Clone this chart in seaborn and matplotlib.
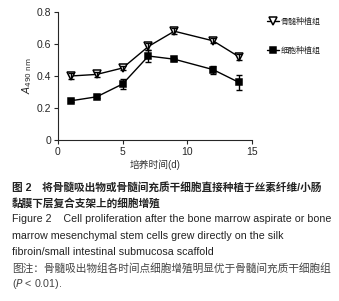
import matplotlib
matplotlib.use('Agg')
import numpy as np
import pandas as pd
from matplotlib import pyplot as plt
import seaborn as sns

# Data
days = [1, 3, 5, 7, 9, 12, 14]
marrow_mean = [0.40, 0.41, 0.45, 0.585, 0.68, 0.62, 0.52]
marrow_err = [0.02, 0.015, 0.015, 0.02, 0.02, 0.015, 0.02]
cell_mean = [0.245, 0.27, 0.35, 0.525, 0.505, 0.44, 0.36]
cell_err = [0.01, 0.01, 0.03, 0.035, 0.01, 0.025, 0.045]
group_names = ['骨髓种植组', '细胞种植组']

caption_lines = [
    ('图 2　将骨髓吸出物或骨髓间充质干细胞直接种植于丝素纤维/小肠', 'bold', '#222222'),
    ('黏膜下层复合支架上的细胞增殖', 'bold', '#222222'),
    ('Figure 2    Cell proliferation after the bone marrow aspirate or bone', 'normal', '#222222'),
    ('marrow mesenchymal stem cells grew directly on the silk', 'normal', '#222222'),
    ('fibroin/small intestinal submucosa scaffold', 'normal', '#222222'),
    ('图注：骨髓吸出物组各时间点细胞增殖明显优于骨髓间充质干细胞组', 'normal', '#444444'),
]

sns.set_style('ticks')
plt.rcParams['font.family'] = ['Liberation Sans', 'Noto Sans CJK SC']

df = pd.DataFrame({
    'day': days * 2,
    'value': marrow_mean + cell_mean,
    'err': marrow_err + cell_err,
    'group': [group_names[0]] * len(days) + [group_names[1]] * len(days),
})

fig = plt.figure(figsize=(3.39, 3.01), dpi=100)
ax = fig.add_axes([0.171, 0.535, 0.572, 0.425])

styles = {
    group_names[0]: dict(marker='v', mfc='white', ms=5.5),
    group_names[1]: dict(marker='s', mfc='black', ms=4.5),
}
for name, sub in df.groupby('group', sort=False):
    sns.lineplot(data=sub, x='day', y='value', ax=ax, color='black', lw=1.0,
                 marker=styles[name]['marker'], markersize=styles[name]['ms'],
                 markerfacecolor=styles[name]['mfc'], markeredgecolor='black',
                 markeredgewidth=1.1, label=name, legend=False)
    ax.errorbar(sub['day'], sub['value'], yerr=sub['err'], fmt='none',
                ecolor='black', elinewidth=1.0, capsize=2.5, capthick=1.0)

ax.set_xlim(0, 15)
ax.set_ylim(0, 0.8)
ax.set_xticks([0, 5, 10, 15])
ax.set_yticks([0, 0.2, 0.4, 0.6, 0.8])
ax.set_yticklabels(['0', '0.2', '0.4', '0.6', '0.8'])
ax.tick_params(labelsize=7.5, length=3, width=0.8, pad=2)
ax.set_xlabel('培养时间(d)', fontsize=7, labelpad=2, color='#333333')
ax.set_ylabel(r'$A_{\mathrm{490\ nm}}$', fontsize=7.5, labelpad=2)
sns.despine(ax=ax)
for s in ['left', 'bottom']:
    ax.spines[s].set_linewidth(0.8)

handles, labels = ax.get_legend_handles_labels()
fig.legend(handles, labels, loc='upper left', bbox_to_anchor=(0.765, 0.965),
           frameon=False, fontsize=5.8, handlelength=1.5, handletextpad=0.2,
           labelspacing=2.6)

y = 0.378
for text, weight, color in caption_lines:
    fig.text(0.035, y, text, fontsize=7.7, fontweight=weight, color=color, va='center')
    y -= 0.0535
fig.text(0.035, y, '($\\it{P}$ < 0.01).', fontsize=7.7, color='#444444', va='center')

fig.savefig('out.png', dpi=100)
